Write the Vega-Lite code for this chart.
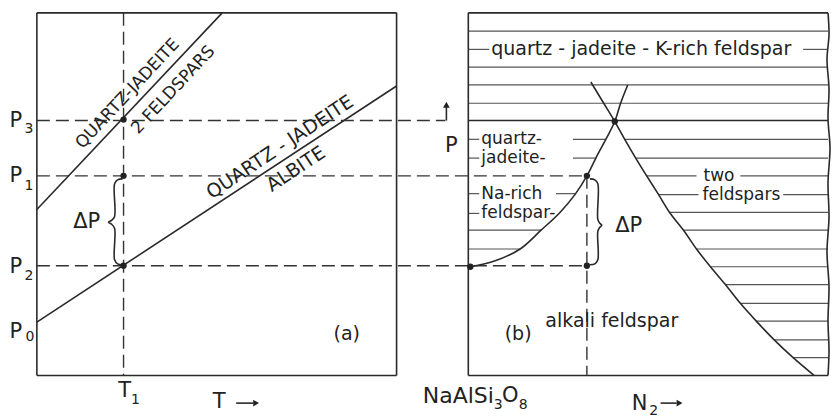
{
  "$schema": "https://vega.github.io/schema/vega-lite/v6.json",
  "width": 834,
  "height": 418,
  "autosize": {"type": "fit", "contains": "padding"},
  "padding": 0,
  "background": "white",
  "config": {"view": {"stroke": null}},
  "datasets": {
    "solid": [
      {"x": 37, "y": 13, "x2": 398, "y2": 13},
      {"x": 37, "y": 380, "x2": 398, "y2": 380},
      {"x": 37, "y": 13, "x2": 37, "y2": 380},
      {"x": 398, "y": 13, "x2": 398, "y2": 380},
      {"x": 37, "y": 212, "x2": 223, "y2": 13},
      {"x": 37, "y": 326, "x2": 398, "y2": 87},
      {"x": 470, "y": 13, "x2": 831, "y2": 13},
      {"x": 470, "y": 380, "x2": 831, "y2": 380},
      {"x": 470, "y": 13, "x2": 470, "y2": 380},
      {"x": 470, "y": 122, "x2": 831, "y2": 122},
      {"x": 448, "y": 122, "x2": 448, "y2": 108},
      {"x": 237, "y": 408, "x2": 254, "y2": 408},
      {"x": 663, "y": 408, "x2": 679, "y2": 408}
    ],
    "hatch": [
      {"x": 470, "y": 31.5, "x2": 831, "y2": 31.5},
      {"x": 470, "y": 50, "x2": 491, "y2": 50},
      {"x": 806, "y": 50, "x2": 831, "y2": 50},
      {"x": 470, "y": 68, "x2": 831, "y2": 68},
      {"x": 470, "y": 86, "x2": 831, "y2": 86},
      {"x": 470, "y": 104.5, "x2": 831, "y2": 104.5},
      {"x": 470, "y": 141, "x2": 481, "y2": 141},
      {"x": 575, "y": 141, "x2": 608, "y2": 141},
      {"x": 470, "y": 160, "x2": 481, "y2": 160},
      {"x": 575, "y": 160, "x2": 598, "y2": 160},
      {"x": 470, "y": 196, "x2": 481, "y2": 196},
      {"x": 558, "y": 196, "x2": 578, "y2": 196},
      {"x": 470, "y": 216, "x2": 481, "y2": 216},
      {"x": 470, "y": 233, "x2": 543, "y2": 233},
      {"x": 470, "y": 252, "x2": 522, "y2": 252},
      {"x": 627, "y": 141, "x2": 831, "y2": 141},
      {"x": 638, "y": 160, "x2": 831, "y2": 160},
      {"x": 649, "y": 178, "x2": 699, "y2": 178},
      {"x": 743, "y": 178, "x2": 831, "y2": 178},
      {"x": 661, "y": 197, "x2": 701, "y2": 197},
      {"x": 786, "y": 197, "x2": 831, "y2": 197},
      {"x": 672, "y": 215, "x2": 831, "y2": 215},
      {"x": 686, "y": 233, "x2": 831, "y2": 233},
      {"x": 699, "y": 252, "x2": 831, "y2": 252},
      {"x": 713, "y": 270, "x2": 831, "y2": 270},
      {"x": 728, "y": 288, "x2": 831, "y2": 288},
      {"x": 743, "y": 307, "x2": 831, "y2": 307},
      {"x": 759, "y": 325, "x2": 831, "y2": 325},
      {"x": 777, "y": 344, "x2": 831, "y2": 344},
      {"x": 796, "y": 362, "x2": 831, "y2": 362}
    ],
    "dashed": [
      {"x": 37, "y": 122, "x2": 447, "y2": 122},
      {"x": 37, "y": 178, "x2": 589, "y2": 178},
      {"x": 37, "y": 269, "x2": 589, "y2": 269},
      {"x": 124, "y": 13, "x2": 124, "y2": 380},
      {"x": 589, "y": 178, "x2": 589, "y2": 380}
    ],
    "curves": [
      {"c": "L", "o": 1, "x": 472, "y": 270},
      {"c": "L", "o": 2, "x": 497, "y": 264},
      {"c": "L", "o": 3, "x": 522, "y": 252},
      {"c": "L", "o": 4, "x": 543, "y": 233},
      {"c": "L", "o": 5, "x": 562, "y": 215},
      {"c": "L", "o": 6, "x": 577, "y": 197},
      {"c": "L", "o": 7, "x": 589, "y": 178},
      {"c": "L", "o": 8, "x": 598, "y": 160},
      {"c": "L", "o": 9, "x": 608, "y": 141},
      {"c": "L", "o": 10, "x": 617, "y": 123},
      {"c": "L", "o": 11, "x": 623, "y": 104},
      {"c": "L", "o": 12, "x": 630, "y": 86},
      {"c": "R", "o": 1, "x": 593, "y": 83},
      {"c": "R", "o": 2, "x": 605, "y": 103},
      {"c": "R", "o": 3, "x": 617, "y": 123},
      {"c": "R", "o": 4, "x": 627, "y": 141},
      {"c": "R", "o": 5, "x": 638, "y": 160},
      {"c": "R", "o": 6, "x": 649, "y": 178},
      {"c": "R", "o": 7, "x": 661, "y": 197},
      {"c": "R", "o": 8, "x": 672, "y": 215},
      {"c": "R", "o": 9, "x": 686, "y": 233},
      {"c": "R", "o": 10, "x": 699, "y": 252},
      {"c": "R", "o": 11, "x": 713, "y": 270},
      {"c": "R", "o": 12, "x": 728, "y": 288},
      {"c": "R", "o": 13, "x": 743, "y": 307},
      {"c": "R", "o": 14, "x": 759, "y": 325},
      {"c": "R", "o": 15, "x": 777, "y": 344},
      {"c": "R", "o": 16, "x": 796, "y": 362},
      {"c": "R", "o": 17, "x": 817, "y": 380},
      {"c": "E", "o": 1, "x": 831, "y": 13},
      {"c": "E", "o": 2, "x": 832, "y": 35},
      {"c": "E", "o": 3, "x": 830, "y": 60},
      {"c": "E", "o": 4, "x": 832, "y": 90},
      {"c": "E", "o": 5, "x": 831, "y": 120},
      {"c": "E", "o": 6, "x": 833, "y": 150},
      {"c": "E", "o": 7, "x": 831, "y": 185},
      {"c": "E", "o": 8, "x": 832, "y": 220},
      {"c": "E", "o": 9, "x": 830, "y": 255},
      {"c": "E", "o": 10, "x": 832, "y": 290},
      {"c": "E", "o": 11, "x": 831, "y": 325},
      {"c": "E", "o": 12, "x": 832, "y": 355},
      {"c": "E", "o": 13, "x": 831, "y": 380},
      {"c": "BA", "o": 1, "x": 123, "y": 181},
      {"c": "BA", "o": 2, "x": 118, "y": 182},
      {"c": "BA", "o": 3, "x": 115, "y": 186},
      {"c": "BA", "o": 4, "x": 115, "y": 219},
      {"c": "BA", "o": 5, "x": 112, "y": 223},
      {"c": "BA", "o": 6, "x": 109, "y": 225},
      {"c": "BA", "o": 7, "x": 112, "y": 227},
      {"c": "BA", "o": 8, "x": 115, "y": 231},
      {"c": "BA", "o": 9, "x": 115, "y": 263},
      {"c": "BA", "o": 10, "x": 118, "y": 267},
      {"c": "BA", "o": 11, "x": 123, "y": 268},
      {"c": "BB", "o": 1, "x": 592, "y": 181},
      {"c": "BB", "o": 2, "x": 597, "y": 182},
      {"c": "BB", "o": 3, "x": 600, "y": 186},
      {"c": "BB", "o": 4, "x": 600, "y": 222},
      {"c": "BB", "o": 5, "x": 602, "y": 226},
      {"c": "BB", "o": 6, "x": 604, "y": 228},
      {"c": "BB", "o": 7, "x": 602, "y": 230},
      {"c": "BB", "o": 8, "x": 600, "y": 234},
      {"c": "BB", "o": 9, "x": 600, "y": 263},
      {"c": "BB", "o": 10, "x": 597, "y": 267},
      {"c": "BB", "o": 11, "x": 592, "y": 268}
    ],
    "dots": [
      {"x": 124, "y": 121},
      {"x": 124, "y": 178},
      {"x": 124, "y": 269},
      {"x": 472, "y": 270},
      {"x": 589, "y": 178},
      {"x": 589, "y": 269},
      {"x": 617, "y": 123}
    ],
    "heads": [
      {"x": 448, "y": 106, "dir": "up"},
      {"x": 257, "y": 408, "dir": "right"},
      {"x": 682, "y": 408, "dir": "right"}
    ],
    "labelsTop": [
      {"x": 493, "y": 50, "t": "quartz - jadeite - K-rich  feldspar"}
    ],
    "labelsRegion": [
      {"x": 483, "y": 141, "t": "quartz-"},
      {"x": 483, "y": 160, "t": "jadeite-"},
      {"x": 483, "y": 196, "t": "Na-rich"},
      {"x": 483, "y": 216, "t": "feldspar-"},
      {"x": 706, "y": 178, "t": "two"},
      {"x": 705, "y": 197, "t": "feldspars"}
    ],
    "labelsCenter": [
      {"x": 614, "y": 325, "t": "alkali feldspar"},
      {"x": 348, "y": 338, "t": "(a)"},
      {"x": 520, "y": 338, "t": "(b)"}
    ],
    "big": [
      {"x": 16, "y": 122, "t": "P"},
      {"x": 16, "y": 178, "t": "P"},
      {"x": 16, "y": 270, "t": "P"},
      {"x": 16, "y": 336, "t": "P"},
      {"x": 125, "y": 396, "t": "T"},
      {"x": 220, "y": 407, "t": "T"},
      {"x": 642, "y": 409, "t": "N"},
      {"x": 453, "y": 148, "t": "P"},
      {"x": 87, "y": 225, "t": "ΔP"},
      {"x": 631, "y": 229, "t": "ΔP"},
      {"x": 512, "y": 401, "t": "O"}
    ],
    "formula": [
      {"x": 460, "y": 401, "t": "NaAlSi"}
    ],
    "subs": [
      {"x": 29, "y": 131, "t": "3"},
      {"x": 29, "y": 188, "t": "1"},
      {"x": 29, "y": 279, "t": "2"},
      {"x": 30, "y": 341, "t": "0"},
      {"x": 136, "y": 405, "t": "1"},
      {"x": 500, "y": 410, "t": "3"},
      {"x": 525, "y": 410, "t": "8"},
      {"x": 656, "y": 416, "t": "2"}
    ],
    "rotUpper": [
      {"x": 128, "y": 95, "t": "QUARTZ-JADEITE"},
      {"x": 174, "y": 91, "t": "2 FELDSPARS"}
    ],
    "rotLower": [
      {"x": 281, "y": 149, "t": "QUARTZ - JADEITE"},
      {"x": 297, "y": 171, "t": "ALBITE"}
    ]
  },
  "encoding": {
    "x": {"field": "x", "type": "quantitative", "scale": {"domain": [0, 834], "nice": false, "zero": false}, "axis": null},
    "y": {"field": "y", "type": "quantitative", "scale": {"domain": [0, 418], "nice": false, "zero": false, "reverse": true}, "axis": null}
  },
  "layer": [
    {
      "data": {"name": "hatch"},
      "mark": {"type": "rule", "stroke": "#555555", "strokeWidth": 1.2},
      "encoding": {"x2": {"field": "x2"}, "y2": {"field": "y2"}}
    },
    {
      "data": {"name": "solid"},
      "mark": {"type": "rule", "stroke": "#2a2a2a", "strokeWidth": 1.6},
      "encoding": {"x2": {"field": "x2"}, "y2": {"field": "y2"}}
    },
    {
      "data": {"name": "dashed"},
      "mark": {"type": "rule", "stroke": "#333333", "strokeWidth": 1.4, "strokeDash": [13, 6]},
      "encoding": {"x2": {"field": "x2"}, "y2": {"field": "y2"}}
    },
    {
      "data": {"name": "curves"},
      "mark": {"type": "line", "stroke": "#2a2a2a", "strokeWidth": 1.6, "interpolate": "catmull-rom"},
      "encoding": {"detail": {"field": "c"}, "order": {"field": "o"}}
    },
    {
      "data": {"name": "dots"},
      "mark": {"type": "point", "filled": true, "size": 40, "color": "#222222", "opacity": 1}
    },
    {
      "data": {"name": "heads"},
      "mark": {"type": "point", "filled": true, "size": 45, "color": "#222222", "opacity": 1},
      "encoding": {"shape": {"field": "dir", "type": "nominal", "scale": {"domain": ["up", "right"], "range": ["triangle-up", "triangle-right"]}, "legend": null}}
    },
    {
      "data": {"name": "labelsTop"},
      "mark": {"type": "text", "font": "DejaVu Sans", "fontSize": 19, "align": "left", "baseline": "middle", "fill": "#222222"},
      "encoding": {"text": {"field": "t"}}
    },
    {
      "data": {"name": "labelsRegion"},
      "mark": {"type": "text", "font": "DejaVu Sans", "fontSize": 17, "align": "left", "baseline": "middle", "fill": "#222222"},
      "encoding": {"text": {"field": "t"}}
    },
    {
      "data": {"name": "labelsCenter"},
      "mark": {"type": "text", "font": "DejaVu Sans", "fontSize": 19, "align": "center", "baseline": "middle", "fill": "#222222"},
      "encoding": {"text": {"field": "t"}}
    },
    {
      "data": {"name": "big"},
      "mark": {"type": "text", "font": "DejaVu Sans", "fontSize": 21, "align": "center", "baseline": "middle", "fill": "#222222"},
      "encoding": {"text": {"field": "t"}}
    },
    {
      "data": {"name": "formula"},
      "mark": {"type": "text", "font": "DejaVu Sans", "fontSize": 22, "align": "center", "baseline": "middle", "fill": "#222222"},
      "encoding": {"text": {"field": "t"}}
    },
    {
      "data": {"name": "subs"},
      "mark": {"type": "text", "font": "DejaVu Sans", "fontSize": 14, "align": "center", "baseline": "middle", "fill": "#222222"},
      "encoding": {"text": {"field": "t"}}
    },
    {
      "data": {"name": "rotUpper"},
      "mark": {"type": "text", "font": "DejaVu Sans", "fontSize": 17, "angle": -47, "align": "center", "baseline": "middle", "fill": "#222222"},
      "encoding": {"text": {"field": "t"}}
    },
    {
      "data": {"name": "rotLower"},
      "mark": {"type": "text", "font": "DejaVu Sans", "fontSize": 19, "angle": -33.5, "align": "center", "baseline": "middle", "fill": "#222222"},
      "encoding": {"text": {"field": "t"}}
    }
  ]
}
